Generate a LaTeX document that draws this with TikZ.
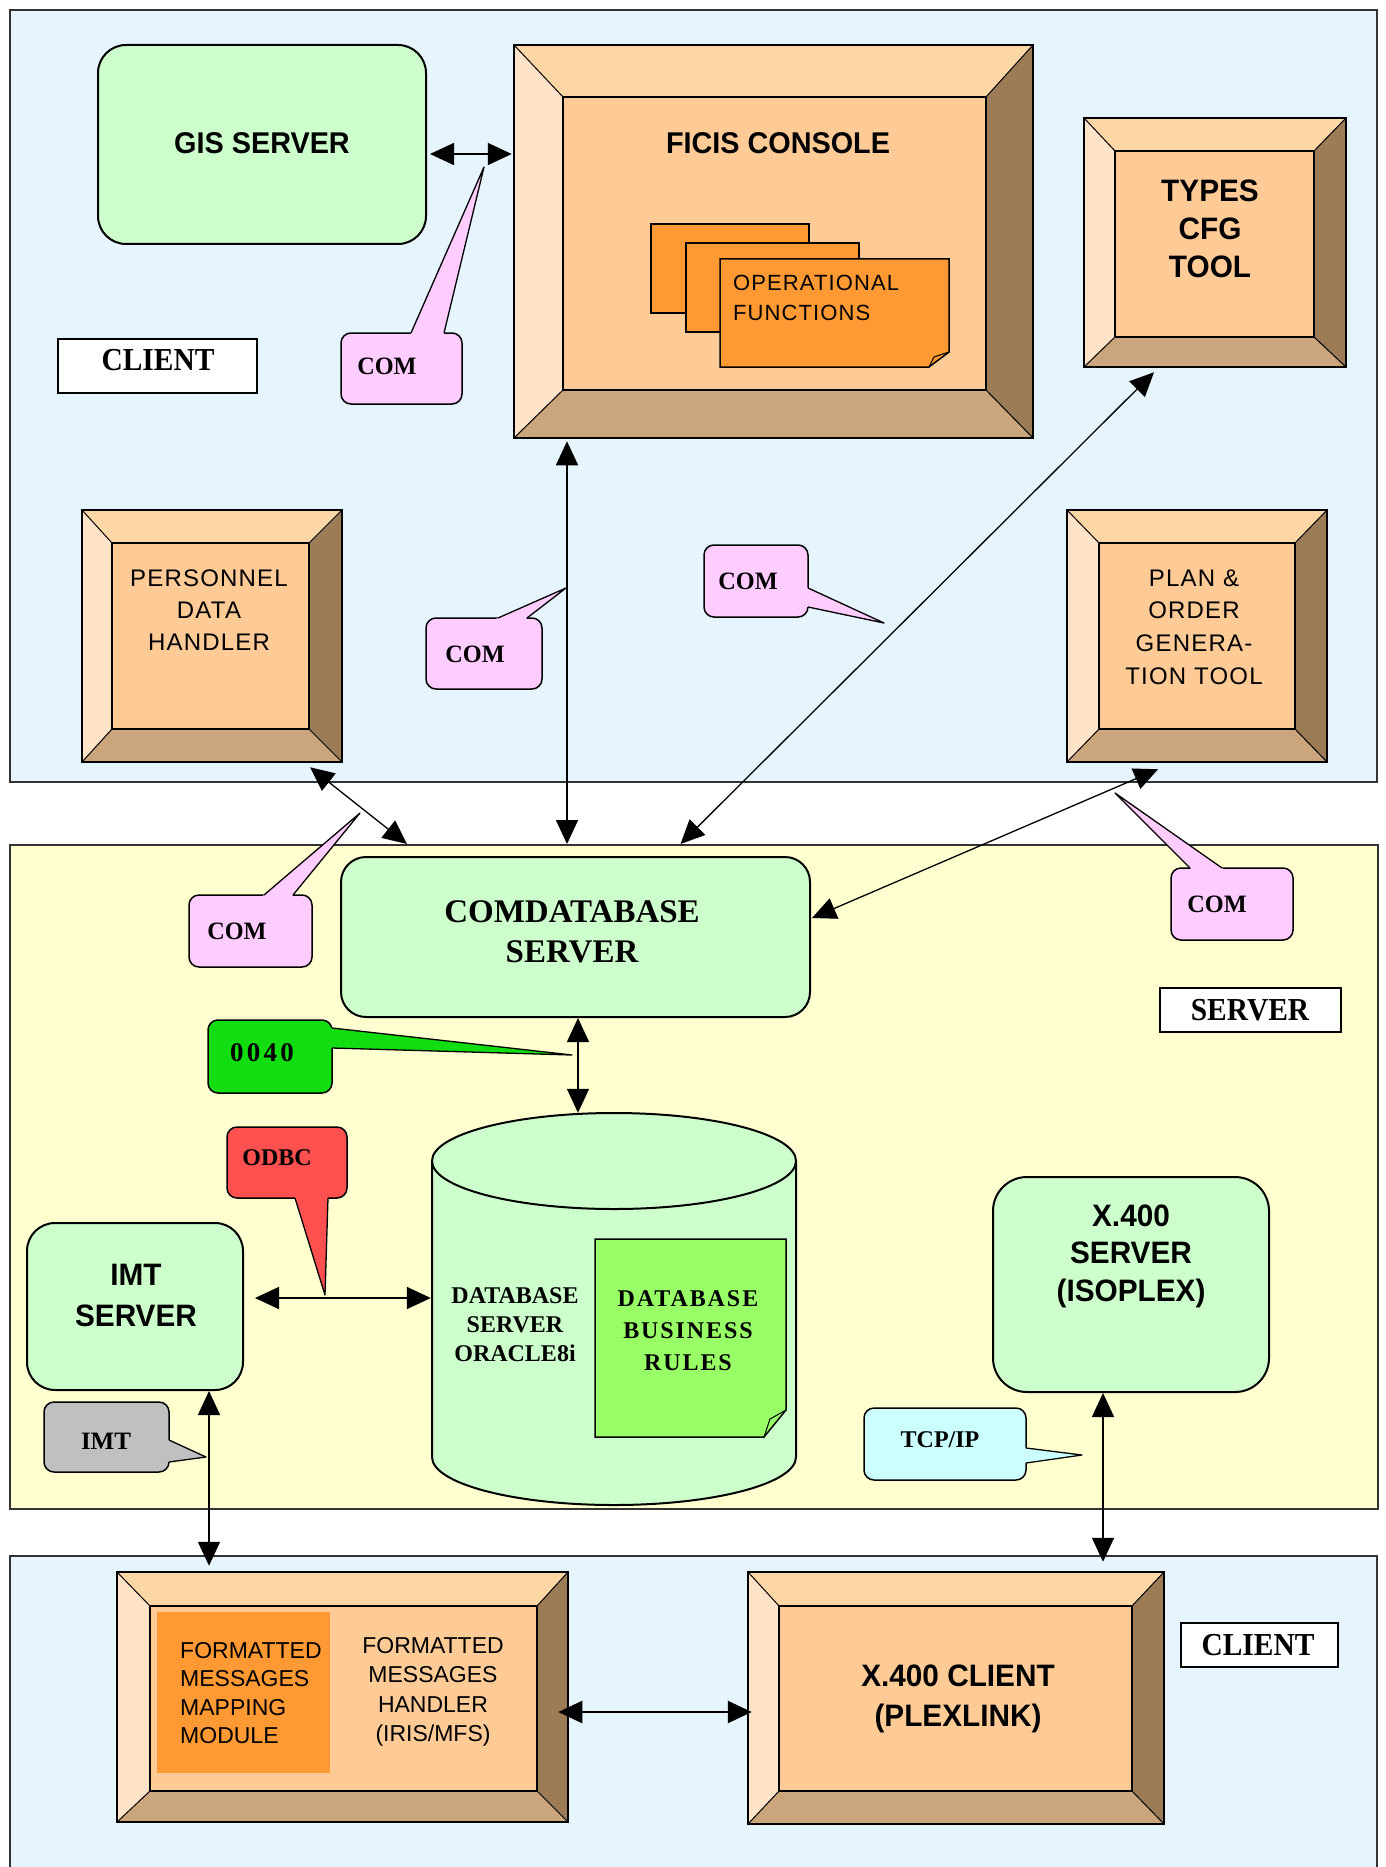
\documentclass[tikz,border=0pt]{standalone}
\usepackage{fontspec}
\setmainfont{Liberation Sans}
\newfontfamily\pixfont[LetterSpace=5]{Liberation Sans}
\newfontfamily\serfont{Liberation Serif}
\newfontfamily\comfont[FakeStretch=0.97]{Liberation Serif}
\newfontfamily\labfont[FakeStretch=0.92]{Liberation Serif}
\newfontfamily\dbfont[LetterSpace=8]{Liberation Serif}
\newfontfamily\zfont[LetterSpace=12]{Liberation Serif}
\newfontfamily\bigsans[FakeStretch=0.96]{Liberation Sans}
\usetikzlibrary{arrows.meta,calc}

\definecolor{clientbg}{RGB}{230,244,253}
\definecolor{serverbg}{RGB}{255,255,208}
\definecolor{boxgreen}{RGB}{204,255,204}
\definecolor{compink}{RGB}{255,204,255}
\definecolor{bvface}{RGB}{254,203,151}
\definecolor{bvtop}{RGB}{253,214,166}
\definecolor{bvleft}{RGB}{255,227,200}
\definecolor{bvright}{RGB}{156,123,87}
\definecolor{bvbottom}{RGB}{203,165,123}
\definecolor{pageorange}{RGB}{255,153,51}
\definecolor{rulegreen}{RGB}{153,255,102}
\definecolor{zgreen}{RGB}{17,221,17}
\definecolor{odbcred}{RGB}{255,80,80}
\definecolor{imtgray}{RGB}{192,192,192}
\definecolor{tcpcyan}{RGB}{204,255,255}

\tikzset{
  panel/.style={draw=black!80, line width=2pt, inner sep=0},
  gbox/.style={draw, fill=boxgreen, line width=2pt, rounded corners=28pt, inner sep=0},
  bvinner/.style={draw, fill=bvface, line width=2pt, inner sep=0},
  bvouter/.style={draw, line width=2.5pt, inner sep=0},
  bvdiag/.style={line width=1pt},
  callbox/.style={draw, line width=1.5pt, rounded corners=10pt, inner sep=0},
  labelbox/.style={draw, fill=white, line width=2pt, inner sep=0},
  txt/.style={inner sep=0, align=center},
  dbl/.style={arrows={Triangle[length=24pt,width=22pt]-Triangle[length=24pt,width=22pt]}, line width=1.6pt},
  pagebox/.style={draw, fill=pageorange, line width=1.5pt, inner sep=0},
  comtxt/.style={inner sep=0, font=\comfont\bfseries\fontsize{25}{28}\selectfont},
}

% #1 name, #2 x1, #3 y1, #4 x2, #5 y2, #6 left, #7 top, #8 right, #9 bottom
\newcommand{\bevelbox}[9]{%
  \pgfmathsetmacro{\bvW}{#4-#2}\pgfmathsetmacro{\bvH}{#5-#3}%
  \pgfmathsetmacro{\bvw}{#4-#2-#6-#8}\pgfmathsetmacro{\bvh}{#5-#3-#7-#9}%
  \pgfmathsetmacro{\bvcx}{(#2+#6+#4-#8)/2}\pgfmathsetmacro{\bvcy}{(#3+#7+#5-#9)/2}%
  \pgfmathsetmacro{\bvCx}{(#2+#4)/2}\pgfmathsetmacro{\bvCy}{(#3+#5)/2}%
  \path[fill=bvleft] (#2,#3) -- ({#2+#6},{#3+#7}) -- ({#2+#6},{#5-#9}) -- (#2,#5) -- cycle;
  \path[fill=bvtop] (#2,#3) -- (#4,#3) -- ({#4-#8},{#3+#7}) -- ({#2+#6},{#3+#7}) -- cycle;
  \path[fill=bvright] (#4,#3) -- (#4,#5) -- ({#4-#8},{#5-#9}) -- ({#4-#8},{#3+#7}) -- cycle;
  \path[fill=bvbottom] (#2,#5) -- (#4,#5) -- ({#4-#8},{#5-#9}) -- ({#2+#6},{#5-#9}) -- cycle;
  \draw[bvdiag] (#2,#3) -- ({#2+#6},{#3+#7}) (#4,#3) -- ({#4-#8},{#3+#7})
     (#4,#5) -- ({#4-#8},{#5-#9}) (#2,#5) -- ({#2+#6},{#5-#9});
  \node[bvinner, minimum width=\bvw pt, minimum height=\bvh pt] (#1in) at (\bvcx,\bvcy) {};
  \node[bvouter, minimum width=\bvW pt, minimum height=\bvH pt] (#1) at (\bvCx,\bvCy) {};
}

% callout tail: #1 colour, #2 base A, #3 base B, #4 tip
\newcommand{\calltail}[4]{%
  \fill[#1] ($(#2)!-5pt!(#4)$) -- (#4) -- ($(#3)!-5pt!(#4)$) -- cycle;
  \draw[line width=1.3pt, line join=round] (#2) -- (#4) -- (#3);
}

\begin{document}
\begin{tikzpicture}[x=1pt,y=-1pt]
\useasboundingbox (0,0) rectangle (1385,1867);
\clip (0,0) rectangle (1385,1867);
\fill[white] (0,0) rectangle (1385,1867);

% panels
\node[panel, fill=clientbg, minimum width=1367pt, minimum height=772pt] (toppanel) at (693.5,396) {};
\node[panel, fill=serverbg, minimum width=1368pt, minimum height=664pt] (srvpanel) at (694,1177) {};
\node[panel, fill=clientbg, minimum width=1367pt, minimum height=330pt] (botpanel) at (693.5,1721) {};

% labels
\node[labelbox, minimum width=199pt, minimum height=54pt] (clientA) at (157.5,366) {};
\node[txt, font=\labfont\bfseries\fontsize{32}{36}\selectfont] (clientAt) at (158,360) {CLIENT};
\node[labelbox, minimum width=181pt, minimum height=44pt] (serverL) at (1250.5,1010) {};
\node[txt, font=\labfont\bfseries\fontsize{32}{36}\selectfont] (serverLt) at (1250,1010) {SERVER};
\node[labelbox, minimum width=157pt, minimum height=44pt] (clientB) at (1259.5,1645) {};
\node[txt, font=\labfont\bfseries\fontsize{32}{36}\selectfont] (clientBt) at (1258,1645) {CLIENT};

% rounded green boxes
\node[gbox, minimum width=328pt, minimum height=199pt] (gis) at (262,144.5) {};
\node[txt, font=\bigsans\bfseries\fontsize{30}{36}\selectfont] (gist) at (262,143) {GIS SERVER};
\node[gbox, rounded corners=25pt, minimum width=469pt, minimum height=160pt] (cdb) at (575.5,937) {};
\node[txt, font=\serfont\bfseries\fontsize{33}{40}\selectfont] (cdbt) at (572,932) {COMDATABASE\\SERVER};
\node[gbox, minimum width=216pt, minimum height=167pt] (imt) at (135,1306.5) {};
\node[txt, font=\bigsans\bfseries\fontsize{31}{41}\selectfont] (imtt) at (136,1295) {IMT\\SERVER};
\node[gbox, rounded corners=34pt, minimum width=276pt, minimum height=215pt] (x4s) at (1131,1284.5) {};
\node[txt, font=\bigsans\bfseries\fontsize{31}{37.5}\selectfont] (x4st) at (1131,1256) {X.400\\SERVER\\(ISOPLEX)};

% bevel boxes
\bevelbox{ficis}{514}{45}{1033}{438}{49}{52}{47}{48}
\node[txt, font=\bigsans\bfseries\fontsize{30}{36}\selectfont] (ficist) at (778,143) {FICIS CONSOLE};
\node[pagebox, minimum width=158pt, minimum height=89pt] (opf1) at (730,268.5) {};
\node[pagebox, minimum width=173pt, minimum height=89pt] (opf2) at (772.5,287.5) {};
\path[draw, fill=pageorange, line width=1.5pt] (720,259) -- (949,259) -- (949,352) -- (929,367) -- (720,367) -- cycle;
\draw[line width=1pt] (929,367) -- (934,357) -- (949,352);
\node[txt, align=left, anchor=west, font=\pixfont\fontsize{22}{30}\selectfont] (opft) at (733,298) {OPERATIONAL\\FUNCTIONS};

\bevelbox{types}{1084}{118}{1346}{367}{31}{33}{32}{30}
\node[txt, font=\bigsans\bfseries\fontsize{31}{38}\selectfont] (typest) at (1210,229) {TYPES\\CFG\\TOOL};

\bevelbox{pdh}{82}{510}{342}{762}{30}{33}{33}{33}
\node[txt, font=\pixfont\fontsize{24}{32}\selectfont] (pdht) at (209,610) {PERSONNEL\\DATA\\HANDLER};

\bevelbox{plan}{1067}{510}{1327}{762}{32}{33}{32}{33}
\node[txt, font=\pixfont\fontsize{24}{32.6}\selectfont] (plant) at (1194,627) {PLAN \&\\ORDER\\GENERA-\\TION TOOL};

\bevelbox{fmh}{117}{1572}{568}{1822}{33}{34}{31}{31}
\path[fill=pageorange] (157,1612) rectangle (330,1773);
\node[txt, align=left, anchor=west, font=\fontsize{23}{28.3}\selectfont] (fmmt) at (180,1693) {FORMATTED\\MESSAGES\\MAPPING\\MODULE};
\node[txt, font=\fontsize{23}{29.5}\selectfont] (fmht) at (433,1692) {FORMATTED\\MESSAGES\\HANDLER\\(IRIS/MFS)};

\bevelbox{x4c}{748}{1572}{1164}{1824}{31}{34}{32}{33}
\node[txt, font=\bigsans\bfseries\fontsize{31}{40}\selectfont] (x4ct) at (958,1699) {X.400 CLIENT\\(PLEXLINK)};

% database cylinder
\path[fill=boxgreen] (432,1161) -- (432,1457) arc[start angle=180, end angle=360, x radius=182pt, y radius=48pt] -- (796,1161) -- cycle;
\draw[line width=2pt] (432,1161) -- (432,1457) arc[start angle=180, end angle=360, x radius=182pt, y radius=48pt] -- (796,1161);
\draw[line width=2pt, fill=boxgreen] (614,1161) ellipse [x radius=182pt, y radius=48pt];
\node[inner sep=0, minimum width=364pt, minimum height=392pt] (db) at (614,1309) {};
\node[txt, font=\serfont\bfseries\fontsize{24}{29}\selectfont] (dbt) at (515,1325) {DATABASE\\SERVER\\ORACLE8i};
\path[draw, fill=rulegreen, line width=1.5pt] (595,1239) -- (786,1239) -- (786,1410) -- (764,1437) -- (595,1437) -- cycle;
\draw[line width=1pt] (764,1437) -- (770,1419) -- (786,1410);
\node[txt, font=\dbfont\bfseries\fontsize{24}{32}\selectfont] (dbrt) at (688,1331) {DATABASE\\BUSINESS\\RULES};

% connectors
\draw[dbl] ([shift={(3,9.5)}]gis.east) -- ([shift={(-1,-87.5)}]ficis.west);
\draw[dbl] ([shift={(-206.5,2)}]ficis.south) -- ([shift={(-8.5,-12)}]cdb.north);
\draw[dbl, line width=1.3pt] ([shift={(-61,4)}]types.south) -- ([shift={(105,-12)}]cdb.north);
\draw[dbl, line width=1.3pt] ([shift={(98,4)}]pdh.south) -- ([shift={(-168.5,-12)}]cdb.north);
\draw[dbl, line width=1.3pt] ([shift={(-39,6)}]plan.south) -- ([shift={(1,-19)}]cdb.east);
\draw[dbl] ([shift={(2.5,0)}]cdb.south) -- ([shift={(-36,0)}]db.north);
\draw[dbl] ([shift={(11,-8.5)}]imt.east) -- ([shift={(-1,-11)}]db.west);
\draw[dbl] ([shift={(74,0)}]imt.south) -- ([shift={(-133.5,-5)}]fmh.north);
\draw[dbl] ([shift={(-28,0)}]x4s.south) -- ([shift={(147,-9)}]x4c.north);
\draw[dbl, line width=2.5pt] ([shift={(-11,15)}]fmh.east) -- ([shift={(5,14)}]x4c.west);

% callouts
\node[callbox, fill=compink, minimum width=121pt, minimum height=71pt] (com1) at (401.5,368.5) {};
\calltail{compink}{411,333}{444,333}{484,167}
\node[comtxt] (com1t) at (387,366) {COM};

\node[callbox, fill=compink, minimum width=116pt, minimum height=71pt] (com2) at (484,653.5) {};
\calltail{compink}{498,618}{527,618}{566,588}
\node[comtxt] (com2t) at (475,654) {COM};

\node[callbox, fill=compink, minimum width=104pt, minimum height=72pt] (com3) at (756,581) {};
\calltail{compink}{808,588}{808,607}{884,623}
\node[comtxt] (com3t) at (748,581) {COM};

\node[callbox, fill=compink, minimum width=123pt, minimum height=72pt] (com4) at (250.5,931) {};
\calltail{compink}{264,895}{293,895}{360,813}
\node[comtxt] (com4t) at (237,931) {COM};

\node[callbox, fill=compink, minimum width=122pt, minimum height=72pt] (com5) at (1232,904) {};
\calltail{compink}{1190,868}{1222,868}{1115,793}
\node[comtxt] (com5t) at (1217,904) {COM};

\node[callbox, fill=zgreen, minimum width=124pt, minimum height=73pt] (c0040) at (270,1056.5) {};
\calltail{zgreen}{332,1028}{332,1048}{572,1055}
\node[inner sep=0, font=\zfont\bfseries\fontsize{27}{30}\selectfont] (c0040t) at (262,1053) {0040};

\node[callbox, fill=odbcred, minimum width=120pt, minimum height=71pt] (odbc) at (287,1162.5) {};
\calltail{odbcred}{295,1198}{328,1198}{325,1295}
\node[inner sep=0, font=\serfont\bfseries\fontsize{24}{28}\selectfont] (odbct) at (277,1158) {ODBC};

\node[callbox, fill=imtgray, minimum width=125pt, minimum height=70pt] (imtc) at (106.5,1437) {};
\calltail{imtgray}{169,1440}{169,1462}{206,1457}
\node[inner sep=0, font=\serfont\bfseries\fontsize{25}{28}\selectfont] (imtct) at (106,1441) {IMT};

\node[callbox, fill=tcpcyan, minimum width=162pt, minimum height=72pt] (tcp) at (945,1444) {};
\calltail{tcpcyan}{1026,1448}{1026,1463}{1082,1455}
\node[inner sep=0, font=\serfont\bfseries\fontsize{24}{28}\selectfont] (tcpt) at (940,1440) {TCP/IP};

\end{tikzpicture}
\end{document}
